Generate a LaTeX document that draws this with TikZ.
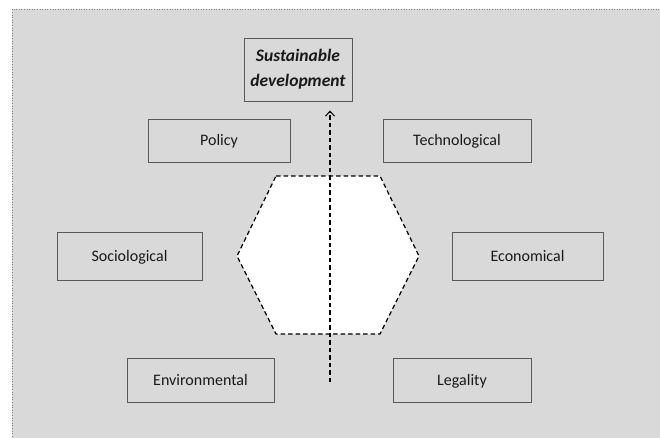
\documentclass[tikz,border=0pt]{standalone}
\usepackage{fontspec}
\setmainfont{Carlito}
\usetikzlibrary{arrows.meta,calc}
\definecolor{bggray}{HTML}{D9D9D9}
\definecolor{boxline}{HTML}{595959}
\begin{document}
\begin{tikzpicture}[x=1pt,y=-1pt,
  factor/.style={draw=boxline,line width=0.9pt,fill=bggray,minimum width=#1,inner sep=0pt,
    font=\fontsize{16}{19}\selectfont,text=black!90,text height=11pt,text depth=0.5pt},
  hexdash/.style={dash pattern=on 4.5pt off 3pt,line width=1.2pt},
]
\useasboundingbox (0,0) rectangle (660,437);
\fill[bggray] (12,9) rectangle (662,439);
\draw[gray,dotted,line width=0.6pt] (12,439) -- (12,9) -- (662,9);

\node[factor=108pt,minimum height=63pt,align=center,text height=,text depth=,
  font=\fontsize{17.5}{25}\selectfont\bfseries\itshape] (sd) at (298,69.5) {Sustainable\\development};
\node[factor=142pt,minimum height=43pt] (policy) at (219,140.5) {Policy};
\node[factor=148pt,minimum height=43pt] (tech) at (457,140.5) {Technological};
\node[factor=145pt,minimum height=48pt] (socio) at (129.5,256) {Sociological};
\node[factor=151pt,minimum height=48pt] (econ) at (527.5,256) {Economical};
\node[factor=147pt,minimum height=44pt] (env) at (200.5,380) {Environmental};
\node[factor=138pt,minimum height=44pt] (legal) at (462,380) {Legality};

\draw[hexdash,fill=white] (276,176) coordinate (h1) -- (380,176) coordinate (h2) -- (419,256) coordinate (h3)
  -- (380,334) coordinate (h4) -- (276,334) coordinate (h5) -- (237,256) coordinate (h6) -- cycle;

\coordinate (start) at (330,382);
\draw[hexdash,line width=1.1pt,-{Straight Barb[length=5pt,width=9pt,line width=1pt]}, shorten >=9pt]
  (start) -- (sd.south -| start);
\end{tikzpicture}
\end{document}
